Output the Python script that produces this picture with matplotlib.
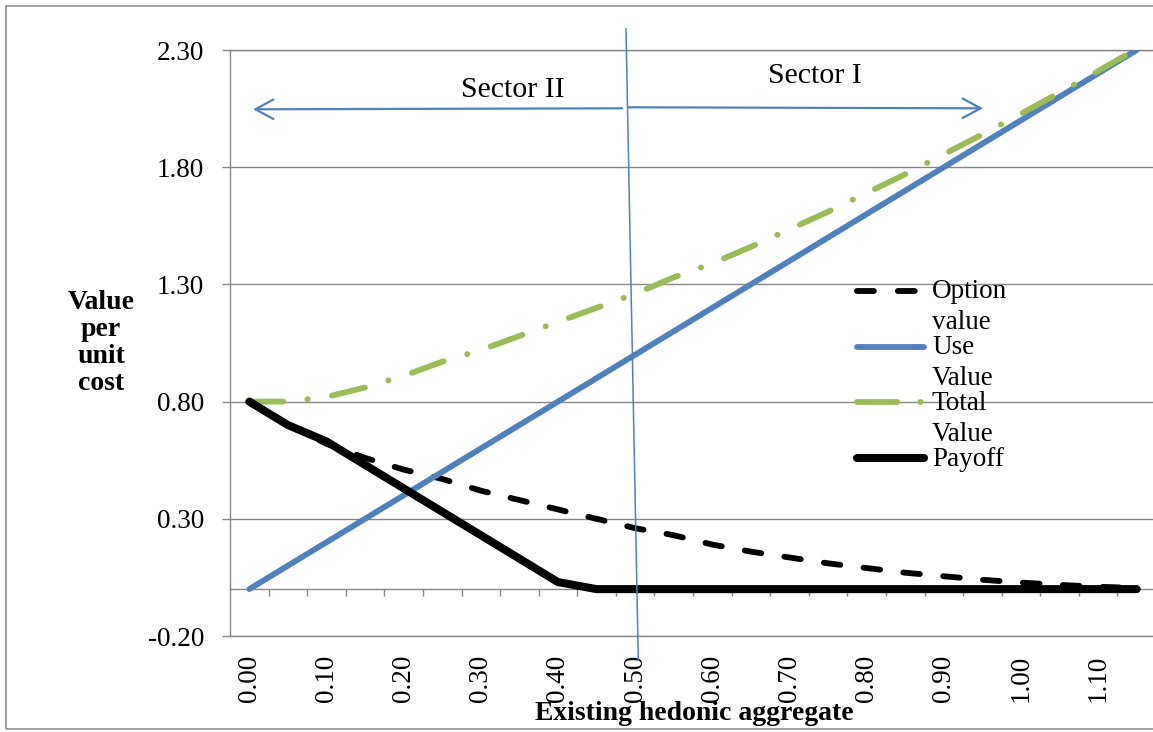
import matplotlib
matplotlib.use("Agg")
import matplotlib.pyplot as plt
from matplotlib.lines import Line2D
from matplotlib.patches import FancyArrowPatch, Rectangle, ArrowStyle

# ---------------- data ----------------
x_vals = [0.00, 0.05, 0.10, 0.15, 0.20, 0.25, 0.30, 0.35, 0.40, 0.45, 0.50, 0.55,
          0.60, 0.65, 0.70, 0.75, 0.80, 0.85, 0.90, 0.95, 1.00, 1.05, 1.10, 1.15]
option_value = [0.80, 0.70, 0.62, 0.56, 0.51, 0.47, 0.42, 0.38, 0.34, 0.30, 0.26, 0.23,
                0.19, 0.16, 0.135, 0.11, 0.09, 0.07, 0.055, 0.04, 0.028, 0.018, 0.01, 0.005]
use_value = [0.00, 0.10, 0.20, 0.30, 0.40, 0.50, 0.60, 0.70, 0.80, 0.90, 1.00, 1.10,
             1.20, 1.30, 1.40, 1.50, 1.60, 1.70, 1.80, 1.90, 2.00, 2.10, 2.20, 2.30]
total_value = [0.80, 0.80, 0.82, 0.86, 0.91, 0.97, 1.02, 1.08, 1.14, 1.20, 1.26, 1.33,
               1.39, 1.46, 1.535, 1.61, 1.69, 1.77, 1.855, 1.94, 2.028, 2.118, 2.21, 2.305]
payoff = [0.80, 0.70, 0.63, 0.53, 0.43, 0.33, 0.23, 0.13, 0.03, 0.00, 0.00, 0.00,
          0.00, 0.00, 0.00, 0.00, 0.00, 0.00, 0.00, 0.00, 0.00, 0.00, 0.00, 0.00]

x_tick_vals = [0.00, 0.10, 0.20, 0.30, 0.40, 0.50, 0.60, 0.70, 0.80, 0.90, 1.00, 1.10]
x_tick_labels = ["0.00", "0.10", "0.20", "0.30", "0.40", "0.50", "0.60", "0.70",
                 "0.80", "0.90", "1.00", "1.10"]
x_minor_ticks = [0.025, 0.075, 0.125, 0.175, 0.225, 0.275, 0.325, 0.375, 0.425, 0.475,
                 0.525, 0.575, 0.625, 0.675, 0.725, 0.775, 0.825, 0.875, 0.925, 0.975,
                 1.025, 1.075, 1.125, 1.175]
y_tick_vals = [-0.20, 0.30, 0.80, 1.30, 1.80, 2.30]
y_tick_labels = ["-0.20", "0.30", "0.80", "1.30", "1.80", "2.30"]

series_labels = [["Option", "value"], ["Use", "Value"], ["Total", "Value"], ["Payoff"]]

# ---------------- style ----------------
W, H = 1153, 732
FONT = "Liberation Serif"
GRID = "#868686"
BLUE = "#4F81BD"
GREEN = "#9BBB59"
plt.rcParams["font.family"] = [FONT, "DejaVu Serif"]


def fx(px):
    return px / W


def fy(py):
    return 1 - py / H


fig = plt.figure(figsize=(W / 100, H / 100), dpi=100)
ax = fig.add_axes([fx(230), fy(636), 926 / W, 586 / H])
ax.set_xlim(-0.025, 1.175)
ax.set_ylim(-0.2, 2.3)

# grid / spines
ax.set_yticks(y_tick_vals)
ax.set_yticklabels(y_tick_labels, fontsize=19.5)
ax.yaxis.grid(True, color=GRID, lw=1.0)
ax.set_axisbelow(True)
ax.spines["right"].set_visible(False)
for s in ["left", "top", "bottom"]:
    ax.spines[s].set_color(GRID)
    ax.spines[s].set_linewidth(1.0)
ax.tick_params(axis="y", direction="out", length=5.8, width=1.0, color=GRID, pad=13)

ax.set_xticks(x_tick_vals)
ax.set_xticklabels(x_tick_labels, rotation=90, fontsize=19.5)
ax.tick_params(axis="x", length=0, pad=13.5)

# category axis line at y = 0 with tick marks between categories
sec = ax.secondary_xaxis(0.2 / 2.5)
sec.spines["bottom"].set_color(GRID)
sec.spines["bottom"].set_linewidth(1.0)
sec.set_xticks(x_minor_ticks)
sec.tick_params(axis="x", direction="out", length=5.0, width=1.0, color=GRID,
                labelbottom=False)

# series
ax.plot(x_vals, option_value, color="black", lw=4.2, dashes=(2.86, 4.0),
        dash_capstyle="round", solid_capstyle="round", zorder=3)
ax.plot(x_vals, use_value, color=BLUE, lw=4.2, solid_capstyle="round", zorder=4)
ax.plot(x_vals, total_value, color=GREEN, lw=4.2, dashes=(5.8, 4.2, 0.05, 4.2),
        dash_capstyle="round", solid_capstyle="round", zorder=5)
ax.plot(x_vals, payoff, color="black", lw=5.8, solid_capstyle="round",
        solid_joinstyle="round", zorder=6)

# axis titles
fig.text(fx(101), fy(343), "Value\nper\nunit\ncost", ha="center", va="center",
         fontsize=20, fontweight="bold", linespacing=1.1)
fig.text(fx(694), fy(720), "Existing hedonic aggregate", ha="center", va="baseline",
         fontsize=20, fontweight="bold")

# sector annotations
fig.text(fx(513), fy(97), "Sector II", ha="center", va="baseline", fontsize=21.5)
fig.text(fx(815), fy(83), "Sector I", ha="center", va="baseline", fontsize=21.5)

astyle = ArrowStyle("->", head_length=13, head_width=7)
fig.add_artist(FancyArrowPatch((fx(622), fy(108.3)), (fx(253), fy(109.3)),
                               transform=fig.transFigure, arrowstyle=astyle,
                               mutation_scale=1, color=BLUE, lw=1.6,
                               shrinkA=0, shrinkB=0))
fig.add_artist(FancyArrowPatch((fx(628), fy(107.3)), (fx(983), fy(108.3)),
                               transform=fig.transFigure, arrowstyle=astyle,
                               mutation_scale=1, color=BLUE, lw=1.6,
                               shrinkA=0, shrinkB=0))
fig.add_artist(Line2D([fx(626), fx(638.3)], [fy(29), fy(660)],
                      transform=fig.transFigure, color=BLUE, lw=1.1))

# legend (drawn manually to mimic Excel's wrapped entries)
leg_y = [290.7, 346.5, 402.3, 458.3]
leg_styles = [
    dict(color="black", lw=4.2, dashes=(2.9, 4.1), dash_capstyle="round"),
    dict(color=BLUE, lw=4.2, solid_capstyle="round"),
    dict(color=GREEN, lw=4.2, dashes=(6.9, 3.95, 0.05, 3.95), dash_capstyle="round"),
    dict(color="black", lw=5.8, solid_capstyle="round"),
]
for yy, st, lab in zip(leg_y, leg_styles, series_labels):
    fig.add_artist(Line2D([fx(857), fx(924)], [fy(yy), fy(yy)],
                          transform=fig.transFigure, **st))
    for i, line in enumerate(lab):
        fig.text(fx(932), fy(yy + 7.5 + 31 * i), line, ha="left", va="baseline",
                 fontsize=19.5)

# outer chart border
fig.add_artist(Rectangle((fx(6), fy(729)), (1170 - 6) / W, (729 - 6) / H,
                         transform=fig.transFigure, fill=False,
                         edgecolor=GRID, lw=1.1))

fig.savefig("out.png", dpi=100)
